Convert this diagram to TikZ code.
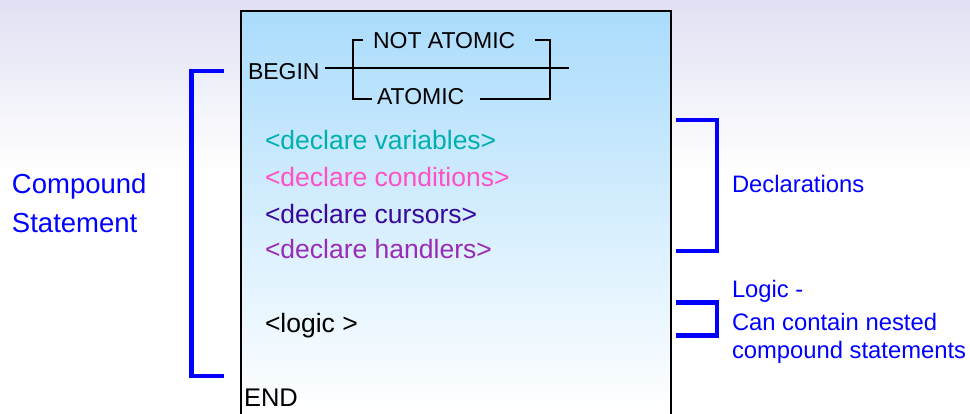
\documentclass[tikz,border=0pt]{standalone}
\usepackage{fontspec}
\setmainfont{Liberation Sans}
\definecolor{bglav}{RGB}{224,224,243}
\definecolor{boxblue}{RGB}{170,220,252}
\definecolor{cvar}{RGB}{0,176,176}
\definecolor{ccond}{RGB}{255,80,200}
\definecolor{ccur}{RGB}{55,8,155}
\definecolor{chand}{RGB}{152,44,180}
\definecolor{lblue}{RGB}{0,0,255}
\begin{document}
\begin{tikzpicture}[x=1pt,y=-1pt,
  txt/.style={inner sep=0pt, outer sep=0pt, anchor=base west},
  rail/.style={draw=black, line width=2pt, line join=miter},
  brk/.style={draw=lblue, line width=4.5pt, line join=miter, line cap=rect},
  rr/.style={txt, font=\fontsize{23}{27}\selectfont},
  decl/.style={txt, font=\fontsize{26.5}{30}\selectfont},
  lbl/.style={txt, text=lblue, font=\fontsize{23.8}{28}\selectfont},
  lblbig/.style={txt, text=lblue, font=\fontsize{27.5}{32}\selectfont}]
\useasboundingbox (0,0) rectangle (970,413);
% background
\fill[white] (0,0) rectangle (970,413);
\shade[top color=bglav, bottom color=white] (0,0) rectangle (970,170);
% main box
\shade[top color=boxblue, bottom color=white] (241,11) rectangle (671,413);
\draw[line width=2pt, line join=miter] (241,414) -- (241,11) -- (671,11) -- (671,414);
% railroad
\node[rr] (begin) at (248,79) {BEGIN};
\node[rr] (notat) at (373,48) {NOT ATOMIC};
\node[rr] (atomic) at (377,104) {ATOMIC};
\coordinate (m0) at (325,68);
\coordinate (m1) at (569,68);
\coordinate (lt) at (363,40);
\coordinate (lb) at (372,99);
\coordinate (rt) at (535,40);
\coordinate (rb) at (480,99);
\draw[rail] (m0) -- (m1);
\draw[rail] (lt) -- (353,40) -- (353,99) -- (lb);
\draw[rail] (rt) -- (550,40) -- (550,99) -- (rb);
% declarations
\node[decl, text=cvar] (dv) at (265,149) {<declare variables>};
\node[decl, text=ccond] (dc) at (265,186) {<declare conditions>};
\node[decl, text=ccur] (dcu) at (265,223) {<declare cursors>};
\node[decl, text=chand] (dh) at (265,258) {<declare handlers>};
\node[decl] (logic) at (265,332) {<logic >};
\node[txt, font=\fontsize{25.5}{30}\selectfont] (end) at (244,406) {END};
% brackets
\draw[brk] (222,71) -- (191.5,71) -- (191.5,376) -- (222,376);
\draw[brk] (678,120) -- (717,120) -- (717,251) -- (678,251);
\draw[brk] (678,302.5) -- (717,302.5) -- (717,335.5) -- (678,335.5);
% labels
\node[lblbig] (cs1) at (12,193) {Compound};
\node[lblbig] (cs2) at (12,232) {Statement};
\node[lbl] (decls) at (732,192) {Declarations};
\node[lbl] (lg1) at (732,297) {Logic -};
\node[lbl] (lg2) at (732,330) {Can contain nested};
\node[lbl] (lg3) at (732,358) {compound statements};
\end{tikzpicture}
\end{document}
